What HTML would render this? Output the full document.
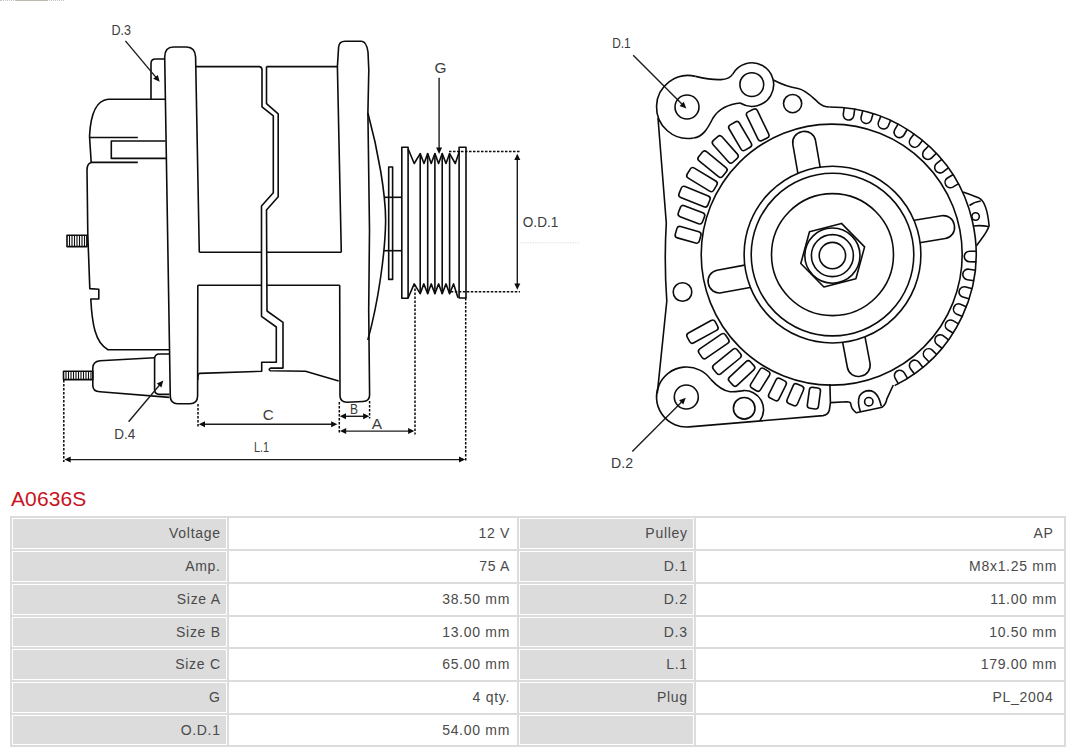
<!DOCTYPE html>
<html><head><meta charset="utf-8"><style>
html,body{margin:0;padding:0;background:#fff;width:1080px;height:753px;overflow:hidden;position:relative;font-family:"Liberation Sans",sans-serif}
svg{position:absolute;left:0;top:0}
.s{fill:none;stroke:#0c0c0c;stroke-width:1.6;stroke-linejoin:round}
.sw{fill:#fff;stroke:#0c0c0c;stroke-width:1.6}
.th{fill:none;stroke:#0c0c0c;stroke-width:1.1}
.dt{fill:none;stroke:#0c0c0c;stroke-width:1.5;stroke-dasharray:2.5 1.5}
.fa{fill:none;stroke:#e2e2e2;stroke-width:1;stroke-dasharray:1.5 1}
.ar{fill:none;stroke:#1c1c1c;stroke-width:1.4}
.ah{fill:#0c0c0c;stroke:none}
.lb{font-family:"Liberation Sans",sans-serif;font-size:14.2px;fill:#3c3c3c}
#top{position:absolute;left:0;top:0;width:64px;height:0;border-top:1px dotted #c4c4c4}#top2{position:absolute;left:16px;top:0;width:32px;height:1px;background:#bdb8b0}
h1{position:absolute;left:11px;top:484.7px;margin:0;font-weight:normal;font-size:21px;line-height:28px;color:#c8141e;letter-spacing:0.1px}
#tbl{position:absolute;left:10px;top:516px;width:1056px;height:231px;background:#dcdcdc}
.c{position:absolute;box-sizing:border-box;border:1px solid #fff;font-size:14px;letter-spacing:0.7px;color:#4a4a4a;text-align:right;padding-right:7px}
.c span{position:absolute;right:5.3px;line-height:16px;white-space:nowrap}
.g{background:#dcdcdc}.w{background:#fff}.w span{right:6px}
</style></head><body>
<div id="top"></div><div id="top2"></div>
<svg width="1080" height="480" viewBox="0 0 1080 480">
<path class="s" d="M165 59L155.5 59Q151 59 151 63.5L151 99"/>
<path class="s" d="M197.8 285.2L197.6 396Q197.4 403.8 190 403.8L177.5 403.8Q170.6 403.6 170.3 396.5L164.7 57Q164.8 47 173.5 47L186.5 47Q195.3 47.3 195.6 57L199.3 252.3"/>
<path class="s" d="M165 99.3L108 99.3Q91.5 101 89.6 135L89.6 137.5L137.8 137.5"/>
<path class="s" d="M165.5 141L111.3 141L111.3 158.4L166 158.4"/>
<path class="s" d="M89.6 137.5L91.2 162.4L137.8 162.4"/>
<path class="s" d="M91.2 162.4Q87 163.5 87 170L87.8 234L89.8 288.6L98.8 289.2L98.8 299L90.8 299C92 323 95 343 108 349.7L169 349.7"/>
<path class="s" d="M67 235.3L87 235.3L87 246.6L67 246.6Z"/>
<path class="th" d="M69.5 235.3L69.5 246.6"/>
<path class="th" d="M72 235.3L72 246.6"/>
<path class="th" d="M74.5 235.3L74.5 246.6"/>
<path class="th" d="M77 235.3L77 246.6"/>
<path class="th" d="M79.5 235.3L79.5 246.6"/>
<path class="th" d="M82 235.3L82 246.6"/>
<path class="th" d="M84.5 235.3L84.5 246.6"/>
<path class="th" d="M87 235.3L87 246.6"/>
<path class="s" d="M154.6 357.7L100 360.7Q92.8 361.5 92.8 368L92.8 385.5Q92.8 391.4 100 391.8L169.5 397.4"/>
<path class="s" d="M169 354L159.5 354Q154.6 354 154.6 359L154.6 389.5Q154.6 394.4 159.5 394.4L169.5 394.4"/>
<path class="s" d="M63.5 371.2L92.8 371.2L92.8 379.6L63.5 379.6Z"/>
<path class="th" d="M66 371.2L66 379.6"/>
<path class="th" d="M68.5 371.2L68.5 379.6"/>
<path class="th" d="M71 371.2L71 379.6"/>
<path class="th" d="M73.5 371.2L73.5 379.6"/>
<path class="th" d="M76 371.2L76 379.6"/>
<path class="th" d="M78.5 371.2L78.5 379.6"/>
<path class="th" d="M81 371.2L81 379.6"/>
<path class="th" d="M83.5 371.2L83.5 379.6"/>
<path class="th" d="M86 371.2L86 379.6"/>
<path class="th" d="M88.5 371.2L88.5 379.6"/>
<path class="th" d="M91 371.2L91 379.6"/>
<path class="s" d="M195.6 66.6L259.5 66.6Q262 67 262 70L262 106.8L273.3 115.9L273.3 192.7L261.5 206L261.5 316.3L276.3 327L276.3 362.3L261.7 362.3L261.7 371.3L199.3 373.4Q197.8 374 197.8 380"/>
<path class="s" d="M266.5 66.6L337.4 66.6"/>
<path class="s" d="M266.5 66.6L266.5 103.7L278.2 113.8L278.2 196.7L266.5 210L267 311L283 322.4L283 368.1L270.5 368.1Q267.8 369.5 270.5 370.8L305.5 371.3L338.7 380.9"/>
<path class="s" d="M199.3 252.3L261.2 252.3"/>
<path class="s" d="M267 252.3L341.3 252.3"/>
<path class="s" d="M197.8 285.3L261.2 285.3"/>
<path class="s" d="M267 285.3L339.7 285.3"/>
<path class="s" d="M341.3 252.3L337.4 66.6L338.6 47Q339.3 41.3 345 41.3L361.5 41.3Q366.5 41.5 368 52L368.8 70L367.9 113L369.5 230L368.7 310L369.6 395Q369.6 401.3 363 401.5L347 402.2Q340.2 402.2 340 396L339.7 285.3"/>
<path class="s" d="M367.9 113C378 150 386 195 385.6 222C385.2 250 379 300 367.8 340"/>
<path class="s" d="M388.7 167L392.6 167L392.6 279.4L388.7 279.4Z"/>
<path class="s" d="M384 197.3L401.8 197.3"/>
<path class="s" d="M384 250.7L401.8 250.7"/>
<path class="s" d="M401.8 298.2L401.8 147.2L408.1 147.2L408.1 298.2Z"/>
<path class="s" d="M459.1 298L459.1 147.2L466 147.2L466 298Z"/>
<path class="s" d="M408.1 148.8L414.2 163.5L420.2 153.6L424 163.5L427.7 153.6L431.2 163.5L434.9 153.6L438.6 163.5L442.2 153.6L446 163.5L449.6 153.6L455.3 163.5L459.6 150.7"/>
<path class="s" d="M408.1 298L414.2 283.9L420.2 293.7L423.8 283.9L427.7 293.7L431.2 283.9L434.9 293.7L438.6 283.9L442.2 293.7L446 283.9L449.6 293.7L453.6 283.9L458 297.8"/>
<path class="s" d="M420.2 153.6L420.2 293.7"/>
<path class="s" d="M427.7 153.6L427.7 293.7"/>
<path class="s" d="M434.9 153.6L434.9 293.7"/>
<path class="s" d="M442.2 153.6L442.2 293.7"/>
<path class="s" d="M449.6 153.6L449.6 293.7"/>
<path class="ar" d="M439.1 77.7L439.1 148.5"/>
<path class="ah" d="M439.1 154L436.1 147.5L442.1 147.5Z"/>
<path class="dt" d="M449 151.5L520 151.5"/>
<path class="dt" d="M450.8 291.8L520 291.8"/>
<path class="dt" d="M63.8 380L63.8 462"/>
<path class="dt" d="M198 404L198 428"/>
<path class="dt" d="M339.3 402L339.3 434"/>
<path class="dt" d="M369.6 401L369.6 418.5"/>
<path class="dt" d="M415 284.5L415 434.5"/>
<path class="dt" d="M465.7 298L465.7 461.5"/>
<path class="fa" d="M520 242.8L580 242.8"/>
<path class="ar" d="M517.3 159L517.3 284.6"/>
<path class="ah" d="M517.3 289.8L514.3 283.6L520.3 283.6Z"/>
<path class="ah" d="M517.3 153.8L520.3 160L514.3 160Z"/>
<path class="ar" d="M204 424.2L332.1 424.2"/>
<path class="ah" d="M337.3 424.2L331.1 427.2L331.1 421.2Z"/>
<path class="ah" d="M198.8 424.2L205 421.2L205 427.2Z"/>
<path class="ar" d="M345 416.3L364.1 416.3"/>
<path class="ah" d="M369.3 416.3L363.1 419.3L363.1 413.3Z"/>
<path class="ah" d="M339.8 416.3L346 413.3L346 419.3Z"/>
<path class="ar" d="M345.2 431.1L409.1 431.1"/>
<path class="ah" d="M414.3 431.1L408.1 434.1L408.1 428.1Z"/>
<path class="ah" d="M340 431.1L346.2 428.1L346.2 434.1Z"/>
<path class="ar" d="M69.7 459.6L460 459.6"/>
<path class="ah" d="M465.2 459.6L459 462.6L459 456.6Z"/>
<path class="ah" d="M64.5 459.6L70.7 456.6L70.7 462.6Z"/>
<path class="ar" d="M125.4 40.9L156.2 77.6"/>
<path class="ah" d="M159.7 81.8L153.2 78.7L157.8 74.9Z"/>
<path class="ar" d="M128.6 421.7L159.8 384.7"/>
<path class="ah" d="M163.3 380.5L161.4 387.4L156.8 383.5Z"/>
<path class="ar" d="M633.2 55.2L682.4 104.5"/>
<path class="ah" d="M686.3 108.4L679.6 105.9L683.8 101.7Z"/>
<path class="ar" d="M632.3 451.5L681.9 401.7"/>
<path class="ah" d="M685.8 397.8L683.3 404.5L679.1 400.3Z"/>
<text class="lb" x="111.5" y="34.6" textLength="19.5" lengthAdjust="spacingAndGlyphs">D.3</text>
<text class="lb" x="434.5" y="72.5" textLength="12" lengthAdjust="spacingAndGlyphs">G</text>
<text class="lb" x="522.8" y="227.3" textLength="35.5" lengthAdjust="spacingAndGlyphs">O.D.1</text>
<text class="lb" x="262.8" y="420.3" textLength="11" lengthAdjust="spacingAndGlyphs">C</text>
<text class="lb" x="350" y="413.5" textLength="8" lengthAdjust="spacingAndGlyphs">B</text>
<text class="lb" x="371.8" y="428.7" textLength="10.3" lengthAdjust="spacingAndGlyphs">A</text>
<text class="lb" x="254" y="452.3" textLength="15" lengthAdjust="spacingAndGlyphs">L.1</text>
<text class="lb" x="114.2" y="438.9" textLength="21" lengthAdjust="spacingAndGlyphs">D.4</text>
<text class="lb" x="612.2" y="48.2" textLength="18.5" lengthAdjust="spacingAndGlyphs">D.1</text>
<text class="lb" x="611" y="467.6" textLength="22" lengthAdjust="spacingAndGlyphs">D.2</text>
<rect class="sw" x="780.5" y="146" width="52.6" height="23" rx="11" transform="rotate(-99.9 806.8 157.5)"/>
<rect class="sw" x="903.5" y="218" width="51.2" height="23" rx="11" transform="rotate(-9.4 929.1 229.5)"/>
<rect class="sw" x="708" y="267.2" width="52.7" height="23" rx="11" transform="rotate(169.6 734.3 278.7)"/>
<rect class="sw" x="831" y="340.1" width="50.1" height="23" rx="11" transform="rotate(79.3 856.1 351.6)"/>
<circle class="sw" cx="832.5" cy="254.6" r="88.4"/>
<circle class="s" cx="832.5" cy="254.6" r="81.3"/>
<circle class="s" cx="832.5" cy="254.6" r="61"/>
<path class="s" d="M841.5 223.4L864.6 246.9L855.9 278.7L823.9 287L800.8 263.5L809.5 231.7Z"/>
<circle class="s" cx="832.4" cy="255.6" r="27.6"/>
<circle class="s" cx="832.4" cy="255.6" r="21"/>
<circle class="s" cx="832.4" cy="255.6" r="13.2"/>
<circle class="s" cx="831.7" cy="254.6" r="130.5"/>
<path class="s" d="M829.5 107A147 147 0 0 1 894.6 385.6"/>
<path class="s" d="M844.3 107.2L843.3 114A5.3 5.3 0 0 0 853.8 115.5L854.8 108.7"/>
<path class="s" d="M862.9 110.4L861.1 117A5.3 5.3 0 0 0 871.3 119.8L873.2 113.2"/>
<path class="s" d="M881 115.9L878.4 122.2A5.3 5.3 0 0 0 888.1 126.3L890.8 120"/>
<path class="s" d="M898.3 123.7L894.8 129.6A5.3 5.3 0 0 0 904 135L907.4 129"/>
<path class="s" d="M914.4 133.6L910.2 139.1A5.3 5.3 0 0 0 918.6 145.5L922.8 140"/>
<path class="s" d="M929.1 145.5L924.2 150.4A5.3 5.3 0 0 0 931.7 157.9L936.6 153"/>
<path class="s" d="M942.1 159.2L936.7 163.4A5.3 5.3 0 0 0 943.2 171.8L948.6 167.6"/>
<path class="s" d="M953.3 174.5L947.4 178A5.3 5.3 0 0 0 952.8 187.1L958.7 183.6"/>
<path class="s" d="M976.6 251.3L969.7 251.2A5.3 5.3 0 0 0 969.5 261.8L976.4 261.9"/>
<path class="s" d="M975.7 270.2L968.9 269.2A5.3 5.3 0 0 0 967.3 279.7L974.2 280.7"/>
<path class="s" d="M972.4 288.8L965.8 286.9A5.3 5.3 0 0 0 962.9 297.1L969.6 299"/>
<path class="s" d="M966.8 306.9L960.5 304.2A5.3 5.3 0 0 0 956.3 313.9L962.6 316.6"/>
<path class="s" d="M958.9 324.1L953 320.6A5.3 5.3 0 0 0 947.6 329.7L953.5 333.2"/>
<path class="s" d="M948.9 340.1L943.4 335.9A5.3 5.3 0 0 0 936.9 344.3L942.4 348.5"/>
<path class="s" d="M936.9 354.7L932 349.9A5.3 5.3 0 0 0 924.5 357.3L929.4 362.2"/>
<path class="s" d="M923.1 367.7L918.9 362.2A5.3 5.3 0 0 0 910.5 368.7L914.7 374.2"/>
<path class="s" d="M907.8 378.8L904.3 372.9A5.3 5.3 0 0 0 895.1 378.2L898.6 384.1"/>
<path class="s" d="M963.2 191.9C971 195 976 196.5 980 198.6C985 202 988 214 989.1 225.8C987 233 982 238 976.5 245.7"/>
<path class="s" d="M969.5 205.5Q974 202 980.8 201"/>
<path class="s" d="M973.5 226Q980 225 988.5 226.5"/>
<circle class="s" cx="975.6" cy="216.5" r="3.7"/>
<path class="s" d="M893.3 385L886.9 398.9Q885.9 404.4 882.2 407.2L856.3 412.8Q851 409 850.7 403.5Q850 401.7 847 401.7L830.4 402.6"/>
<path class="s" d="M860.5 411.9Q857 402 859.5 396Q863 390.6 869.3 390.6Q878 391 881.3 406.3"/>
<circle class="s" cx="868.8" cy="401.7" r="4.2"/>
<path class="s" d="M829.9 384L830.4 402.6L829.4 410Q828 415 823 415.6L689.1 426.9"/>
<path class="s" d="M689.1 426.9A30 30 0 1 1 710.8 379.4"/>
<path class="s" d="M710.8 379.4C716 385 722 391 730 391.7C736 392 740 391 743.3 390.8"/>
<path class="s" d="M742.8 390.6A19 19 0 0 1 759.9 420.7"/>
<circle class="s" cx="686.3" cy="397" r="12"/>
<circle class="s" cx="744.2" cy="408.3" r="10.8"/>
<path class="s" d="M658 118L666.3 223Q664 262 666.8 301L657.3 393.4"/>
<path class="s" d="M693.5 138A31.5 31.5 0 1 1 695.6 76.4"/>
<path class="s" d="M693.5 138C703 137 708 128 713 118C718 110 728 104 741 103"/>
<path class="s" d="M695.6 76.4C704 78.4 714 80 721 79.6C726 79.3 730 78 732.55 74.4"/>
<circle class="s" cx="687" cy="107" r="12"/>
<path class="s" d="M732.6 74.4A21.8 21.8 0 1 1 740.6 103.3"/>
<circle class="s" cx="751.8" cy="84.6" r="11.9"/>
<path class="s" d="M773.4 80C781 84 790 87.3 798 88.5C806 90 812 97 818 102.3C822 105.8 825.5 107 829.5 107"/>
<circle class="s" cx="792.6" cy="103.6" r="9.1"/>
<circle class="s" cx="682.5" cy="292" r="9.3"/>
<rect class="s" x="741.8" y="119" width="31.8" height="11.8" rx="3" transform="rotate(64.2 757.7 124.9)"/>
<rect class="s" x="725.5" y="130.2" width="29.3" height="11.8" rx="3" transform="rotate(59.5 740.2 136.1)"/>
<rect class="s" x="710.7" y="143.5" width="29.2" height="11.8" rx="3" transform="rotate(48.3 725.3 149.4)"/>
<rect class="s" x="697" y="158.3" width="31" height="11.8" rx="3" transform="rotate(39.1 712.5 164.2)"/>
<rect class="s" x="686.5" y="173.7" width="31" height="11.8" rx="3" transform="rotate(31.3 702 179.6)"/>
<rect class="s" x="679" y="190.8" width="31" height="11.8" rx="3" transform="rotate(21.9 694.5 196.7)"/>
<rect class="s" x="678.5" y="208.8" width="25.8" height="11.8" rx="3" transform="rotate(20.9 691.4 214.8)"/>
<rect class="s" x="675.6" y="228.9" width="25" height="11.8" rx="3" transform="rotate(15.8 688.1 234.8)"/>
<rect class="s" x="686.5" y="326.1" width="31.9" height="11.2" rx="3" transform="rotate(-28.8 702.4 331.7)"/>
<rect class="s" x="697.7" y="340.6" width="32.1" height="11.2" rx="3" transform="rotate(-34.5 713.7 346.2)"/>
<rect class="s" x="711.7" y="355.9" width="30.7" height="11.2" rx="3" transform="rotate(-39.3 727 361.6)"/>
<rect class="s" x="727.3" y="367.9" width="28.7" height="11.2" rx="3" transform="rotate(-42.9 741.6 373.5)"/>
<rect class="s" x="748.8" y="374.1" width="22.9" height="11.2" rx="3" transform="rotate(-58.1 760.2 379.8)"/>
<rect class="s" x="766.5" y="383.8" width="21.8" height="11.2" rx="3" transform="rotate(-63.4 777.5 389.4)"/>
<rect class="s" x="784.8" y="389.1" width="21.2" height="11.2" rx="3" transform="rotate(-66.6 795.4 394.8)"/>
<rect class="s" x="803.4" y="392.4" width="21.1" height="11.2" rx="3" transform="rotate(-82.3 814 398.1)"/>
</svg>
<h1>A0636S</h1>
<div id="tbl"></div>
<div class="c g" style="left:12px;top:518px;width:215px;height:31px"><span style="top:5.5px">Voltage</span></div>
<div class="c w" style="left:229px;top:518px;width:288px;height:31px"><span style="top:5.5px">12 V</span></div>
<div class="c g" style="left:519px;top:518px;width:175px;height:31px"><span style="top:5.5px">Pulley</span></div>
<div class="c w" style="left:696px;top:518px;width:368px;height:31px"><span style="top:5.5px;right:9.5px">AP</span></div>
<div class="c g" style="left:12px;top:551px;width:215px;height:31px"><span style="top:5.5px">Amp.</span></div>
<div class="c w" style="left:229px;top:551px;width:288px;height:31px"><span style="top:5.5px">75 A</span></div>
<div class="c g" style="left:519px;top:551px;width:175px;height:31px"><span style="top:5.5px">D.1</span></div>
<div class="c w" style="left:696px;top:551px;width:368px;height:31px"><span style="top:5.5px">M8x1.25 mm</span></div>
<div class="c g" style="left:12px;top:584px;width:215px;height:31px"><span style="top:5.5px">Size A</span></div>
<div class="c w" style="left:229px;top:584px;width:288px;height:31px"><span style="top:5.5px">38.50 mm</span></div>
<div class="c g" style="left:519px;top:584px;width:175px;height:31px"><span style="top:5.5px">D.2</span></div>
<div class="c w" style="left:696px;top:584px;width:368px;height:31px"><span style="top:5.5px">11.00 mm</span></div>
<div class="c g" style="left:12px;top:617px;width:215px;height:30px"><span style="top:5.5px">Size B</span></div>
<div class="c w" style="left:229px;top:617px;width:288px;height:30px"><span style="top:5.5px">13.00 mm</span></div>
<div class="c g" style="left:519px;top:617px;width:175px;height:30px"><span style="top:5.5px">D.3</span></div>
<div class="c w" style="left:696px;top:617px;width:368px;height:30px"><span style="top:5.5px">10.50 mm</span></div>
<div class="c g" style="left:12px;top:649px;width:215px;height:31px"><span style="top:5.5px">Size C</span></div>
<div class="c w" style="left:229px;top:649px;width:288px;height:31px"><span style="top:5.5px">65.00 mm</span></div>
<div class="c g" style="left:519px;top:649px;width:175px;height:31px"><span style="top:5.5px">L.1</span></div>
<div class="c w" style="left:696px;top:649px;width:368px;height:31px"><span style="top:5.5px">179.00 mm</span></div>
<div class="c g" style="left:12px;top:682px;width:215px;height:31px"><span style="top:5.5px">G</span></div>
<div class="c w" style="left:229px;top:682px;width:288px;height:31px"><span style="top:5.5px">4 qty.</span></div>
<div class="c g" style="left:519px;top:682px;width:175px;height:31px"><span style="top:5.5px">Plug</span></div>
<div class="c w" style="left:696px;top:682px;width:368px;height:31px"><span style="top:5.5px;right:9.5px">PL_2004</span></div>
<div class="c g" style="left:12px;top:715px;width:215px;height:30px"><span style="top:5.5px">O.D.1</span></div>
<div class="c w" style="left:229px;top:715px;width:288px;height:30px"><span style="top:5.5px">54.00 mm</span></div>
<div class="c g" style="left:519px;top:715px;width:175px;height:30px"><span style="top:5.5px"></span></div>
<div class="c w" style="left:696px;top:715px;width:368px;height:30px"><span style="top:5.5px"></span></div>
</body></html>
